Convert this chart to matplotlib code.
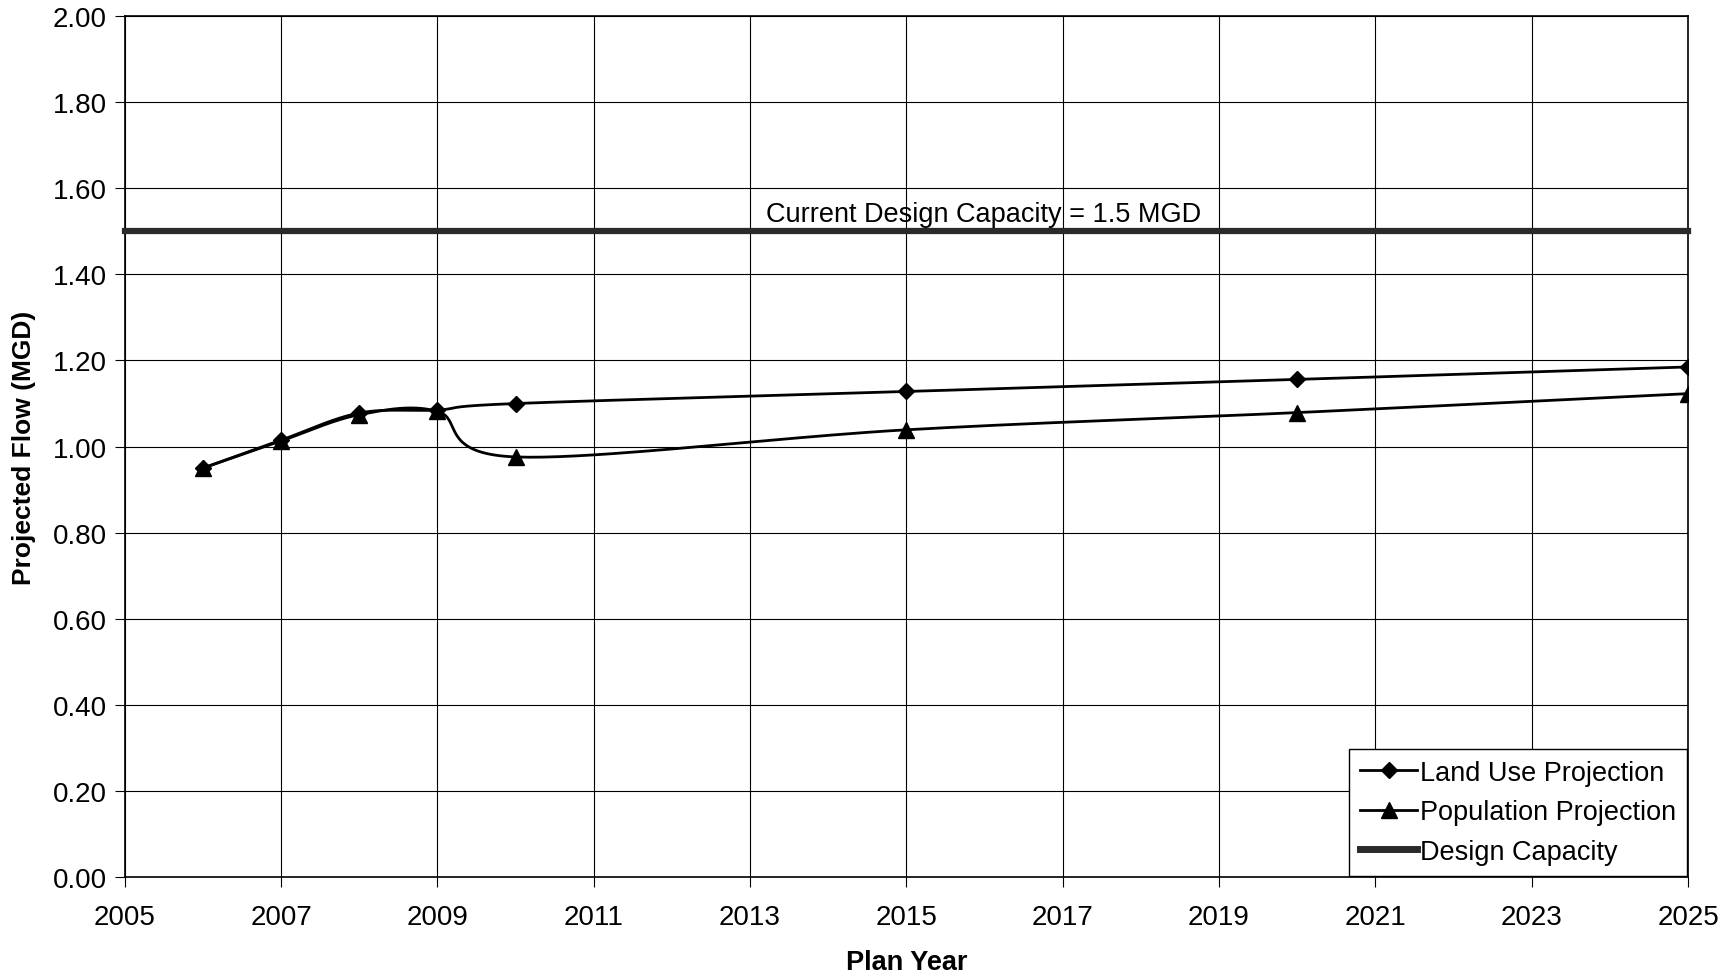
import numpy as np
import matplotlib.pyplot as plt

plt.rcParams['font.family'] = ['Liberation Sans', 'DejaVu Sans']

years = [2006, 2007, 2008, 2009, 2010, 2015, 2020, 2025]
land_use = [0.95, 1.015, 1.078, 1.085, 1.10, 1.128, 1.156, 1.185]
population = [0.95, 1.013, 1.074, 1.082, 0.976, 1.039, 1.079, 1.123]
design_years = [2005, 2025]
design_cap = [1.5, 1.5]

x_ticks = list(range(2005, 2026, 2))
y_ticks = np.arange(0, 2.01, 0.2)


def smooth(x, y, sx, sy, n=40):
    # excel style smoothed line (catmull-rom in screen-ish space)
    px = np.asarray(x, float) * sx
    py = np.asarray(y, float) * sy
    pts = np.column_stack([px, py])
    pts = np.vstack([pts[0], pts, pts[-1]])
    out = []
    for i in range(1, len(pts) - 2):
        p0, p1, p2, p3 = pts[i - 1], pts[i], pts[i + 1], pts[i + 2]
        c1 = p1 + (p2 - p0) / 6
        c2 = p2 - (p3 - p1) / 6
        t = np.linspace(0, 1, n)[:, None]
        seg = ((1 - t) ** 3) * p1 + 3 * ((1 - t) ** 2) * t * c1 + 3 * (1 - t) * t ** 2 * c2 + t ** 3 * p2
        out.append(seg)
    out = np.vstack(out)
    return out[:, 0] / sx, out[:, 1] / sy


fig = plt.figure(figsize=(17.32, 9.79), dpi=100)
ax = fig.add_axes([0.072, 0.103, 0.9026, 0.8796])

ax.set_xlim(2005, 2025)
ax.set_ylim(0, 2.0)

# pixels per unit, used for smoothing
sx = 1563 / 20
sy = 861 / 2.0

lx, ly = smooth(years, land_use, sx, sy)
px_, py_ = smooth(years, population, sx, sy)

ax.plot(lx, ly, color='black', lw=2, zorder=4)
ax.plot(years, land_use, ls='none', marker='D', ms=8, color='black', zorder=5)
ax.plot(px_, py_, color='black', lw=2, zorder=4)
ax.plot(years, population, ls='none', marker='^', ms=11, color='black', zorder=5)
ax.plot(design_years, design_cap, color='#2a2a2a', lw=4.5, zorder=3, clip_on=False)

# legend handles
h1, = ax.plot([], [], color='black', lw=2, marker='D', ms=8)
h2, = ax.plot([], [], color='black', lw=2, marker='^', ms=11)
h3, = ax.plot([], [], color='#2a2a2a', lw=5)
leg = ax.legend([h1, h2, h3], ['Land Use Projection', 'Population Projection', 'Design Capacity'],
                loc='lower right', bbox_to_anchor=(1.0, 0.0), fontsize=19.5, frameon=True,
                fancybox=False, edgecolor='black', framealpha=1, handlelength=2.1,
                handletextpad=0.1, borderpad=0.4, labelspacing=0.5, borderaxespad=0.05)
leg.get_frame().set_linewidth(1.0)

ax.text(2013.2, 1.51, 'Current Design Capacity = 1.5 MGD', fontsize=19.5, ha='left', va='bottom')

ax.set_xticks(x_ticks)
ax.set_yticks(y_ticks)
ax.set_yticklabels(['%.2f' % v for v in y_ticks])
ax.tick_params(labelsize=20, direction='out', length=7, color='black')
ax.tick_params(axis='x', pad=12)
ax.tick_params(axis='y', pad=6)
ax.grid(True, color='black', lw=0.8)
ax.set_axisbelow(True)
for s in ax.spines.values():
    s.set_color('black')
    s.set_linewidth(1.2)

ax.set_xlabel('Plan Year', fontsize=19.5, fontweight='bold', labelpad=14)
ax.set_ylabel('Projected Flow (MGD)', fontsize=19, fontweight='bold', labelpad=12)

fig.savefig('out.png', dpi=100)
